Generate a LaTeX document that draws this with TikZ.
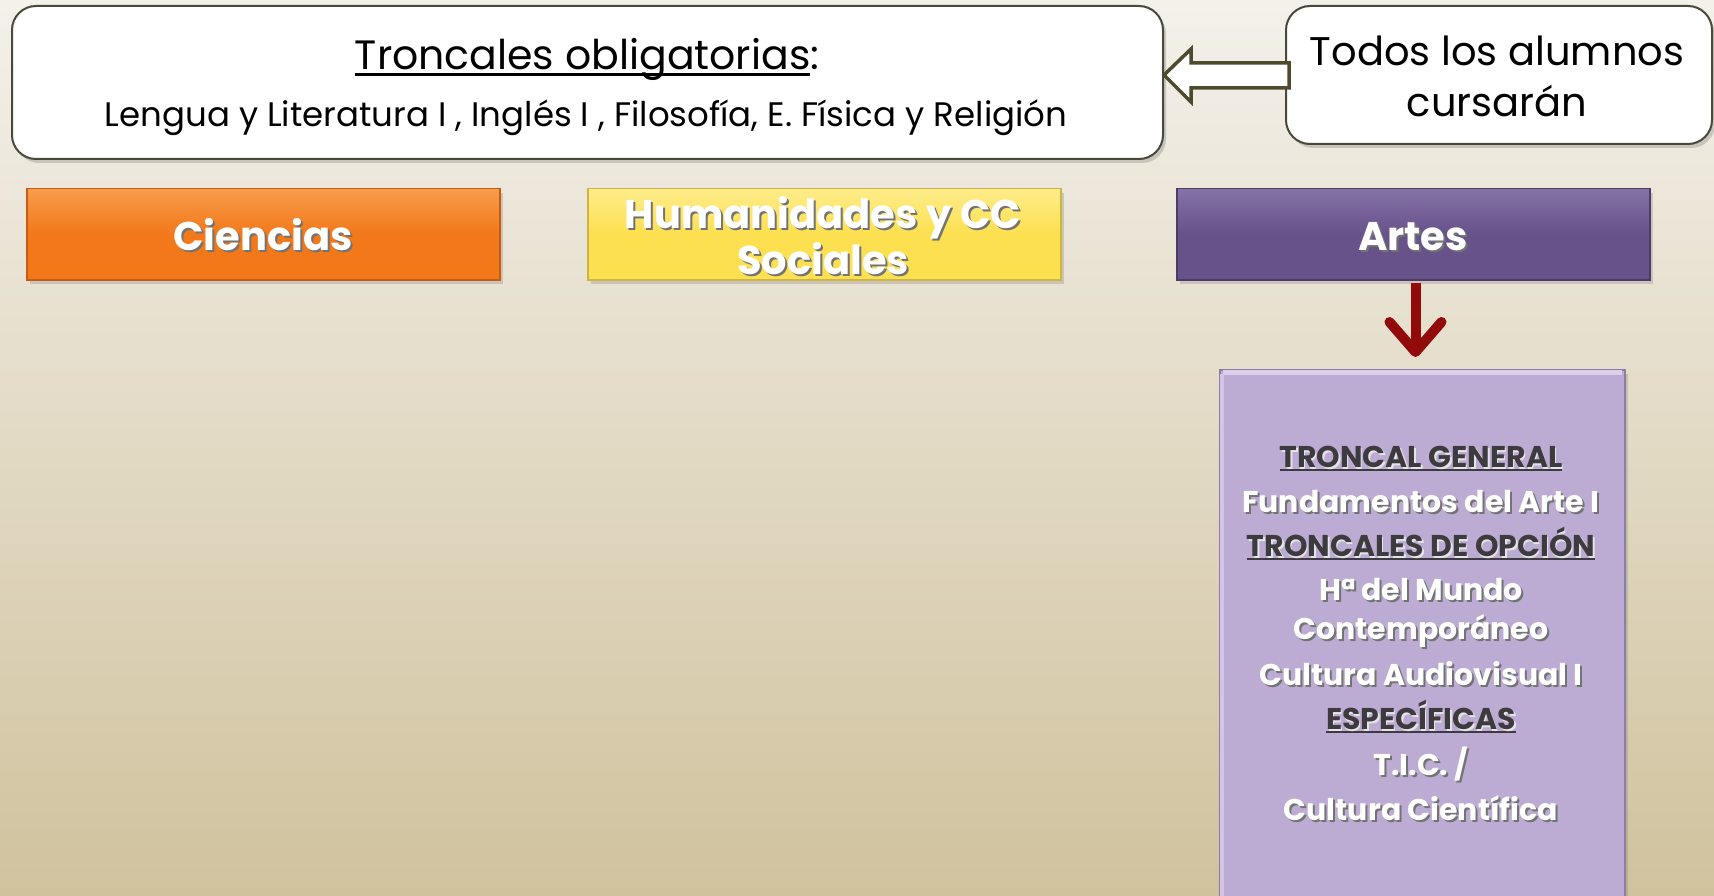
\documentclass[tikz,border=0pt]{standalone}
\usepackage{fontspec}
\setmainfont{Poppins}
\usetikzlibrary{shadows,arrows.meta}
\definecolor{bgtop}{HTML}{F4F1EB}
\definecolor{bgmid}{HTML}{E2DAC3}
\definecolor{bgbot}{HTML}{D0C29D}
\definecolor{boxline}{HTML}{4A4838}
\definecolor{arrline}{HTML}{4E4A2E}
\definecolor{orangeA}{HTML}{F2781A}
\definecolor{orangeL}{HTML}{F89C4C}
\definecolor{orangeD}{HTML}{C65C12}
\definecolor{yellowA}{HTML}{FDE04F}
\definecolor{yellowL}{HTML}{FEEC8A}
\definecolor{yellowD}{HTML}{CDB443}
\definecolor{purpleA}{HTML}{67528A}
\definecolor{purpleL}{HTML}{8572A6}
\definecolor{purpleD}{HTML}{4C3C68}
\definecolor{lilac}{HTML}{BCABD2}
\definecolor{lilacL}{HTML}{DDD0EE}
\definecolor{lilacD}{HTML}{8E7DA6}
\definecolor{redarr}{HTML}{930A0A}
\definecolor{headgray}{HTML}{3E3B40}
\newlength\myulw
\newcommand{\shw}[1]{\leavevmode\rlap{\kern2pt\raisebox{-2pt}{\textcolor{black!55}{#1}}}#1}
\newcommand{\shl}[1]{\leavevmode\rlap{\kern1.5pt\raisebox{-2pt}{\textcolor{white!80!gray}{#1}}}#1}
\newcommand{\myul}[2]{\settowidth\myulw{#2}\rlap{\rule[-#1]{\myulw}{2.5pt}}#2}
\tikzset{
  whitebox/.style={draw=boxline, line width=2pt, fill=white, rounded corners=24pt,
    drop shadow={shadow xshift=3pt, shadow yshift=-4pt, opacity=0.35}},
  catbox/.style={line width=1.5pt, minimum height=91pt, minimum width=473pt, anchor=north west,
    drop shadow={shadow xshift=3pt, shadow yshift=-4pt, opacity=0.3}},
  cattext/.style={text=white, font=\bfseries\fontsize{40}{40}\selectfont, anchor=base, inner sep=0pt},
  hollowarrow/.style={draw=arrline, line width=3.5pt, fill=white, line join=miter},
  redarrow/.style={draw=redarr, line width=10pt, -{Straight Barb[length=30pt, width=52pt, round]}},
  subtext/.style={font=\bfseries\fontsize{30}{30}\selectfont, anchor=base, text=white},
  headtext/.style={font=\bfseries\fontsize{30}{30}\selectfont, anchor=base, text=headgray},
}
\begin{document}
\begin{tikzpicture}[x=1pt,y=-1pt]
\useasboundingbox (0,0) rectangle (1714,896);
\shade[top color=bgtop, middle color=bgmid, bottom color=bgbot] (0,0) rectangle (1714,896);

% top boxes
\node[whitebox, minimum width=1151pt, minimum height=153pt, anchor=north west] (tc) at (11,5) {};
\node[whitebox, minimum width=426pt, minimum height=138pt, anchor=north west] (todos) at (1285,5) {};
\node[anchor=base, font=\fontsize{41}{41}\selectfont] (tct) at (587,70) {\myul{6pt}{Troncales obligatorias}:};
\node[anchor=base, font=\fontsize{34}{34}\selectfont] (tcl) at (586,127) {Lengua y Literatura I , Inglés I , Filosofía, E. Física y Religión};
\node[anchor=base, font=\fontsize{40}{40}\selectfont] (todos1) at (1497,66) {Todos los alumnos};
\node[anchor=base, font=\fontsize{40}{40}\selectfont] (todos2) at (1497,117) {cursarán};

% hollow arrow from "todos" to troncales box
\coordinate (tip) at (tc.east |- todos.west);
\draw[hollowarrow] (tip) -- ++(27,-26) -- ++(0,14) -- ++(98,0) -- ++(0,25) -- ++(-98,0) -- ++(0,14) -- cycle;

% category boxes
\node[catbox, draw=orangeD, top color=orangeL, bottom color=orangeA, middle color=orangeA] (cien) at (26,188) {};
\node[catbox, draw=yellowD, top color=yellowL, bottom color=yellowA, middle color=yellowA] (hum) at (587,188) {};
\node[catbox, draw=purpleD, top color=purpleL, bottom color=purpleA, middle color=purpleA] (artes) at (1176,188) {};
\node[cattext] (cient) at (263,251) {\shw{Ciencias}};
\node[cattext] (hum1) at (823,229) {\shw{Humanidades y CC}};
\node[cattext] (hum2) at (823,274) {\shw{Sociales}};
\node[cattext] (artt) at (1413,251) {\shw{Artes}};

% lilac box
\node[anchor=north west, minimum width=405pt, minimum height=540pt, fill=lilac, draw=lilacD, line width=2pt,
  drop shadow={shadow xshift=3pt, shadow yshift=-4pt, opacity=0.3}] (artbox) at (1219,369) {};
\draw[lilacL, line width=5pt] ([shift={(4,3)}]artbox.north west) -- ([shift={(-4,3)}]artbox.north east);
\draw[lilacL!70!lilac, line width=4pt] ([shift={(3,5)}]artbox.north west) -- ([shift={(3,0)}]artbox.south west);
\draw[redarrow] ([yshift=-2pt]artes.south -| 1415.5,0) -- ([yshift=12pt]artbox.north -| 1415.5,0);

\node[headtext] (l1) at (1421,467) {\myul{4pt}{\shl{TRONCAL GENERAL}}};
\node[subtext] (l2) at (1421,512) {\shw{Fundamentos del Arte I}};
\node[headtext] (l3) at (1421,556) {\myul{4pt}{\shl{TRONCALES DE OPCIÓN}}};
\node[subtext] (l4) at (1421,600) {\shw{Hª del Mundo}};
\node[subtext] (l5) at (1421,639) {\shw{Contemporáneo}};
\node[subtext] (l6) at (1421,685) {\shw{Cultura Audiovisual I}};
\node[headtext] (l7) at (1421,729) {\myul{4pt}{\shl{ESPECÍFICAS}}};
\node[subtext] (l8) at (1421,775) {\shw{T.I.C. /}};
\node[subtext] (l9) at (1421,820) {\shw{Cultura Científica}};
\end{tikzpicture}
\end{document}
